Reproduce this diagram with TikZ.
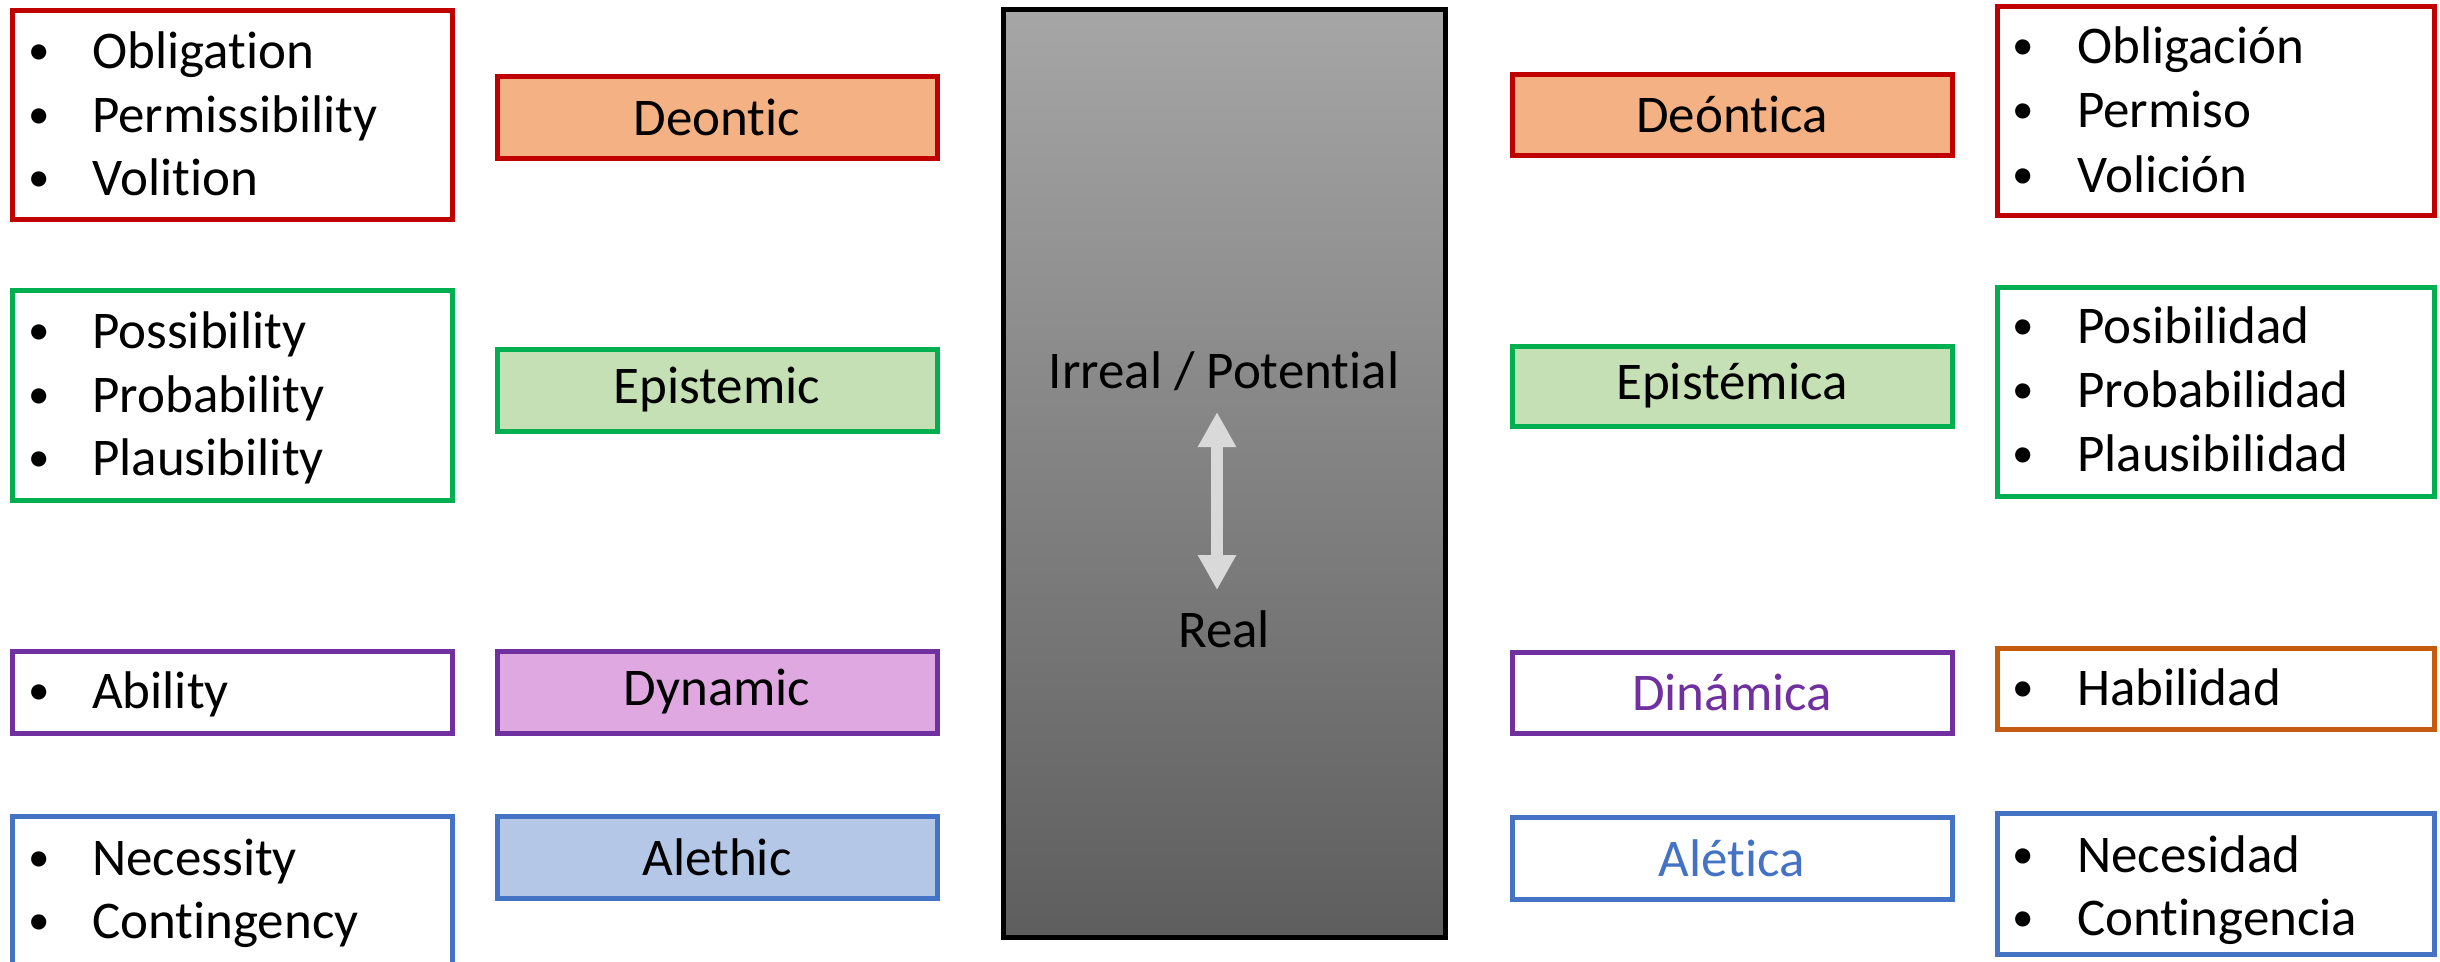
\documentclass[tikz,border=0pt]{standalone}
\usepackage{fontspec}
\setmainfont{Carlito}[Ligatures=NoCommon]
\usetikzlibrary{arrows.meta}

\definecolor{dred}{HTML}{C00000}
\definecolor{dgreen}{HTML}{00B050}
\definecolor{dpurple}{HTML}{7030A0}
\definecolor{dblue}{HTML}{4472C4}
\definecolor{dorange}{HTML}{C55A11}
\definecolor{fillorange}{HTML}{F4B183}
\definecolor{fillgreen}{HTML}{C5E0B4}
\definecolor{fillpink}{HTML}{E0A8E0}
\definecolor{fillblue}{HTML}{B4C7E7}
\definecolor{scaletop}{HTML}{A6A6A6}
\definecolor{scalebot}{HTML}{5E5E5E}
\definecolor{arrowgray}{HTML}{D9D9D9}

\newcommand{\bigtext}{\fontsize{53}{64}\selectfont}
\newcommand{\bultext}{\fontsize{43}{50}\selectfont}

\tikzset{
  box/.style={draw, line width=5pt, rectangle, inner sep=0pt, fill=white},
  listbox/.style={box, minimum width=440pt},
  rlistbox/.style={box, minimum width=437pt},
  catbox/.style={box, minimum width=440pt, minimum height=82pt, font=\bigtext},
  item/.style={anchor=base west, inner sep=0pt, font=\bigtext},
  bul/.style={anchor=base, inner sep=0pt, font=\bultext},
}

\begin{document}
\begin{tikzpicture}[x=1pt, y=-1pt]
\useasboundingbox[fill=white] (0,0) rectangle (2440,961);

% ---- left column: English sub-types ----
\node[listbox, draw=dred,    minimum height=209pt] (lred)    at (232,114.5) {};
\node[listbox, draw=dgreen,  minimum height=210pt] (lgreen)  at (232,395) {};
\node[listbox, draw=dpurple, minimum height=82pt]  (lpurple) at (232,692) {};
\node[listbox, draw=dblue,   minimum height=184pt] (lblue)   at (232,908) {};

\foreach \y/\t [count=\i] in {68/Obligation,132/Permissibility,195/Volition,
    348/Possibility,412/Probability,475/Plausibility,708/Ability,
    875/Necessity,938/Contingency}{
  \node[bul]  (lb\i) at (39,\y-4) {\textbullet};
  \node[item] (lt\i) at (92,\y) {\t};
}

% ---- English category labels ----
\node[catbox, draw=dred,    fill=fillorange] (deontic)   at (717,117)   {Deontic};
\node[catbox, draw=dgreen,  fill=fillgreen]  (epistemic) at (717,390)   {Epistemic};
\node[catbox, draw=dpurple, fill=fillpink]   (dynamic)   at (717,692)   {Dynamic};
\node[catbox, draw=dblue,   fill=fillblue]   (alethic)   at (717,857.5) {Alethic};

% ---- central scale ----
\node[draw=black, line width=5pt, rectangle, minimum width=442pt, minimum height=928pt,
      top color=scaletop, bottom color=scalebot] (scale) at (1224,473) {};
\node[anchor=base, inner sep=0pt, font=\bigtext] (irreal) at (1224,388) {Irreal / Potential};
\node[anchor=base, inner sep=0pt, font=\bigtext] (real)   at (1224,647) {Real};
\coordinate (uptip)   at (1217,412);
\coordinate (downtip) at (1217,590);
\draw[arrowgray, line width=12pt,
      {Triangle[width=36pt,length=35pt]}-{Triangle[width=36pt,length=35pt]}]
  (uptip) -- (downtip);

% ---- Spanish category labels ----
\node[catbox, draw=dred,    fill=fillorange, minimum height=81pt] (deontica)   at (1732,114.5) {Deóntica};
\node[catbox, draw=dgreen,  fill=fillgreen,  minimum height=80pt] (epistemica) at (1732,386)   {Epistémica};
\node[catbox, draw=dpurple, text=dpurple,    minimum height=81pt] (dinamica)   at (1732,692.5) {Dinámica};
\node[catbox, draw=dblue,   text=dblue]                           (aletica)    at (1732,858)   {Alética};

% ---- right column: Spanish sub-types ----
\node[rlistbox, draw=dred,    minimum height=209pt] (rred)    at (2215.5,110.5) {};
\node[rlistbox, draw=dgreen,  minimum height=209pt] (rgreen)  at (2215.5,391.5) {};
\node[rlistbox, draw=dorange, minimum height=81pt]  (rorange) at (2215.5,688.5) {};
\node[rlistbox, draw=dblue,   minimum height=141pt] (rblue)   at (2215.5,883.5) {};

\foreach \y/\t [count=\i] in {63/Obligación,127/Permiso,192/Volición,
    343/Posibilidad,407/Probabilidad,471/Plausibilidad,705/Habilidad,
    872/Necesidad,935/Contingencia}{
  \node[bul]  (rb\i) at (2023,\y-4) {\textbullet};
  \node[item] (rt\i) at (2077,\y) {\t};
}
\end{tikzpicture}
\end{document}
